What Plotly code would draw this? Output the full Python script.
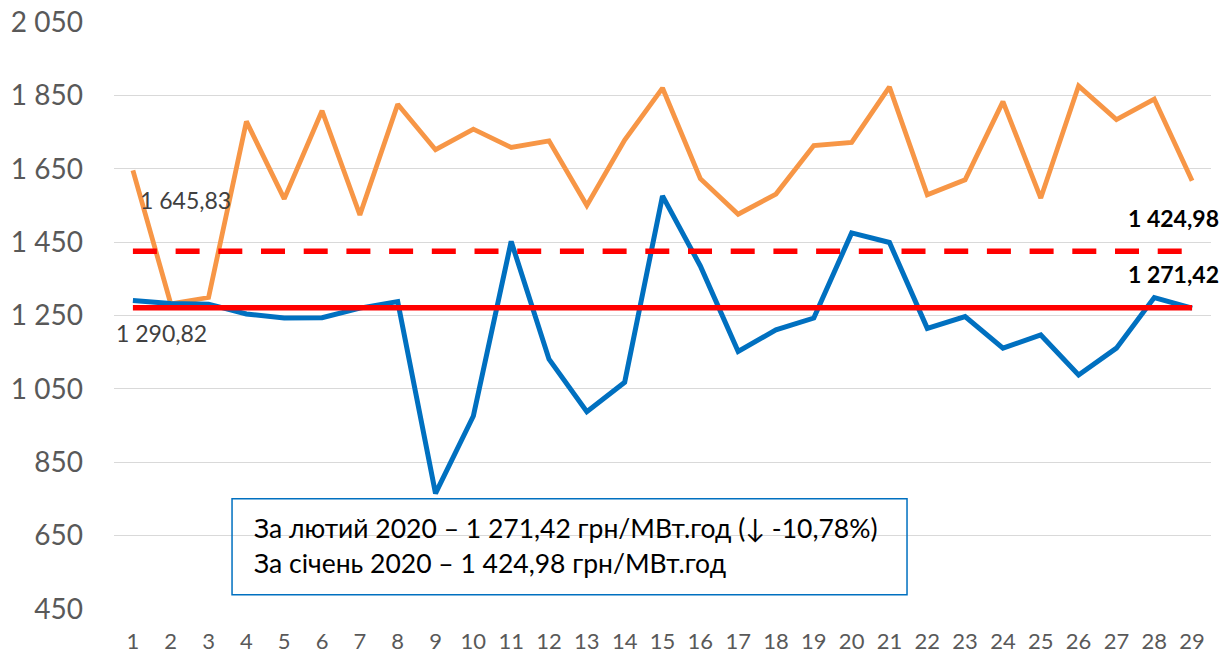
import plotly.graph_objects as go

days = list(range(1, 30))
jan_prices = [1645.83, 1282, 1299, 1779, 1568, 1808, 1524, 1826, 1702, 1758, 1708, 1726, 1550, 1728,
              1870, 1623, 1526, 1581, 1713, 1722, 1873, 1579, 1620, 1833, 1570, 1876, 1784, 1840, 1617]
feb_prices = [1290.82, 1283, 1281, 1254, 1243, 1244, 1270, 1288, 765, 976, 1452, 1131, 988, 1068,
              1576, 1385, 1152, 1211, 1243, 1475, 1449, 1215, 1247, 1161, 1197, 1088, 1161, 1299, 1270]
jan_avg = 1424.98
feb_avg = 1271.42
y_ticks = [450, 650, 850, 1050, 1250, 1450, 1650, 1850, 2050]
box_lines = ["За лютий 2020 – 1 271,42 грн/МВт.год (↓ -10,78%)",
             "За січень 2020 – 1 424,98 грн/МВт.год"]


def fmt(v):
    return f"{v:,.2f}".replace(",", " ").replace(".", ",")


FONT = "Lato, 'Noto Sans', sans-serif"

fig = go.Figure()
fig.add_trace(go.Scatter(x=days, y=jan_prices, mode="lines",
                         line=dict(color="#F79646", width=4.8), name="Січень"))
fig.add_trace(go.Scatter(x=days, y=feb_prices, mode="lines",
                         line=dict(color="#0070C0", width=5), name="Лютий"))
fig.add_trace(go.Scatter(x=[days[0], days[-1]], y=[jan_avg, jan_avg], mode="lines",
                         line=dict(color="#FF0000", width=5.5, dash="24px,18.7px"), name="avg Jan"))
fig.add_trace(go.Scatter(x=[days[0], days[-1]], y=[feb_avg, feb_avg], mode="lines",
                         line=dict(color="#FF0000", width=5.5), name="avg Feb"))

annotations = [
    dict(x=days[0], y=jan_prices[0], text=fmt(jan_prices[0]), showarrow=False,
         xanchor="left", yanchor="middle", xshift=5, yshift=-30,
         font=dict(family=FONT, size=23, color="#404040")),
    dict(x=days[0], y=feb_prices[0], text=fmt(feb_prices[0]), showarrow=False,
         xanchor="left", yanchor="middle", xshift=-19, yshift=-32,
         font=dict(family=FONT, size=23, color="#404040")),
    dict(x=days[-1], y=jan_avg, text="<b>" + fmt(jan_avg) + "</b>", showarrow=False,
         xanchor="right", yanchor="middle", xshift=29, yshift=33,
         font=dict(family=FONT, size=23, color="#000000")),
    dict(x=days[-1], y=feb_avg, text="<b>" + fmt(feb_avg) + "</b>", showarrow=False,
         xanchor="right", yanchor="middle", xshift=29, yshift=34,
         font=dict(family=FONT, size=23, color="#000000")),
]
for line_text, ypos in zip(box_lines, [0.1385, 0.0789]):
    annotations.append(dict(x=0.1255, y=ypos, xref="paper", yref="paper", text=line_text,
                            showarrow=False, xanchor="left", yanchor="middle", align="left",
                            font=dict(family=FONT, size=26.5, color="#000000")))

fig.add_shape(type="rect", xref="paper", yref="paper", x0=0.1076, x1=0.7229, y0=0.0244, y1=0.1879,
              line=dict(color="#0070C0", width=1.5), fillcolor="rgba(0,0,0,0)", layer="above")

fig.update_layout(
    width=1227, height=654,
    margin=dict(l=114, r=16, t=22, b=45, autoexpand=False),
    plot_bgcolor="white", paper_bgcolor="white",
    showlegend=False,
    separators=", ",
    annotations=annotations,
    font=dict(family=FONT),
    xaxis=dict(range=[0.5, 29.5], tickvals=days, showgrid=False, zeroline=False,
               showline=False, ticks="", ticklabelstandoff=17, automargin=False,
               tickfont=dict(family=FONT, size=22, color="#595959")),
    yaxis=dict(range=[450, 2050], tickvals=y_ticks, tickformat=",d", showgrid=True,
               gridcolor="#D9D9D9", gridwidth=1.3, zeroline=False, showline=False,
               ticks="", ticklabelstandoff=30, automargin=False,
               tickfont=dict(family=FONT, size=28, color="#595959")),
)

fig.write_html("out.html", config={"displayModeBar": False},
               post_script="document.body.style.margin='0';document.body.style.overflow='hidden';")
